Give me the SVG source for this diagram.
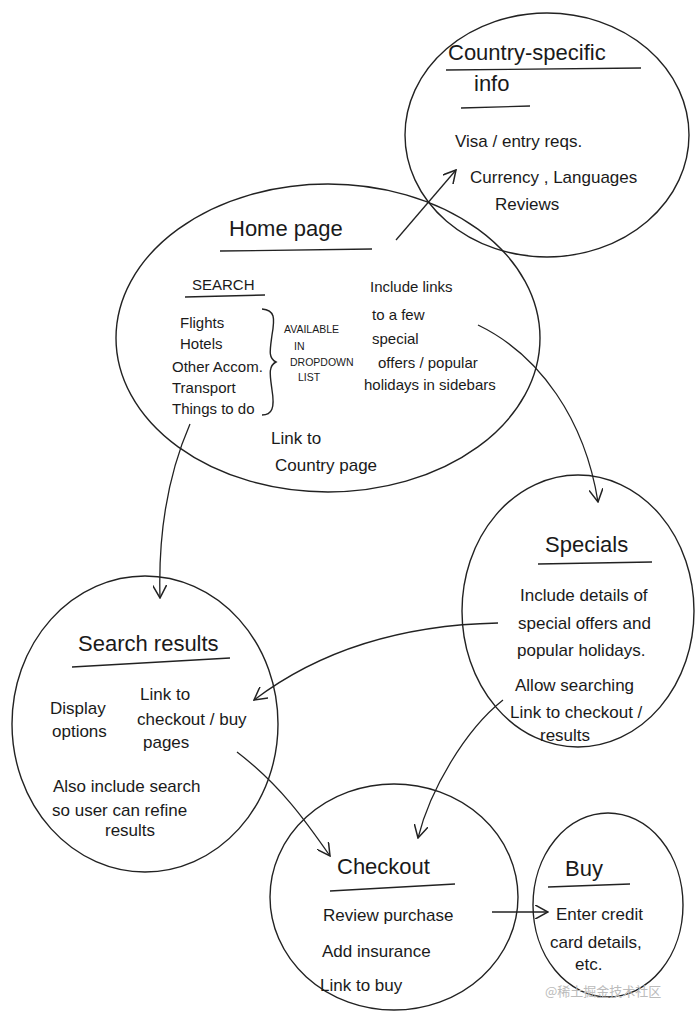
<svg xmlns="http://www.w3.org/2000/svg" width="700" height="1017" viewBox="0 0 700 1017">
<defs>
<marker id="arr" viewBox="0 0 12 12" refX="11" refY="6" markerWidth="14" markerHeight="14" markerUnits="userSpaceOnUse" orient="auto">
<path d="M0,0 L11,6 L0,12" fill="none" stroke="#222" stroke-width="1.3"/>
</marker>
</defs>
<style>
.n{fill:none;stroke:#222;stroke-width:1.4}
.c{fill:none;stroke:#222;stroke-width:1.3;marker-end:url(#arr)}
.u{stroke:#222;stroke-width:1.3}
text{font-family:"Liberation Sans","DejaVu Sans",sans-serif;fill:#1a1a1a}
.h{font-size:22px}
.b{font-size:17px}
.s{font-size:15px}
.t{font-size:10.5px}
</style>
<rect width="700" height="1017" fill="#fff"/>
<g id="connectors">
<path class="c" d="M396,240 L456,170"/>
<path class="c" d="M478,325 C540,355 585,420 598,502"/>
<path class="c" d="M190,424 C170,470 158,530 160,598"/>
<path class="c" d="M498,623 C400,625 320,650 254,700"/>
<path class="c" d="M237,752 C280,785 305,820 330,856"/>
<path class="c" d="M503,700 C465,730 430,790 418,838"/>
<path class="c" d="M492,912 L548,912"/>
</g>
<g id="country">
<ellipse class="n" cx="547" cy="135" rx="142" ry="122"/>
<text class="h" x="448" y="60">Country-specific</text>
<line class="u" x1="446" y1="70" x2="641" y2="68"/>
<text class="h" x="474" y="91">info</text>
<line class="u" x1="461" y1="108" x2="530" y2="106"/>
<text class="b" x="455" y="147" font-size="18">Visa / entry reqs.</text>
<text class="b" x="470" y="183" font-size="19">Currency , Languages</text>
<text class="b" x="495" y="210" font-size="19">Reviews</text>
</g>
<g id="home">
<ellipse class="n" cx="328" cy="338" rx="212" ry="154"/>
<text class="h" x="229" y="236" font-size="24">Home page</text>
<line class="u" x1="220" y1="251" x2="372" y2="249"/>
<text class="s" x="192" y="290">SEARCH</text>
<line class="u" x1="185" y1="297" x2="265" y2="295"/>
<text class="s" x="180" y="328">Flights</text>
<text class="s" x="180" y="349">Hotels</text>
<text class="s" x="172" y="372">Other Accom.</text>
<text class="s" x="172" y="393">Transport</text>
<text class="s" x="172" y="414">Things to do</text>
<path class="n" d="M262,309 C275,310 275,318 272,335 C270,350 268,358 276,362 C268,366 270,375 272,390 C275,408 272,415 262,415"/>
<text class="t" x="284" y="333">AVAILABLE</text>
<text class="t" x="294" y="350">IN</text>
<text class="t" x="290" y="366">DROPDOWN</text>
<text class="t" x="298" y="381">LIST</text>
<text class="s" x="370" y="292" font-size="16">Include links</text>
<text class="s" x="372" y="320" font-size="16">to a few</text>
<text class="s" x="372" y="344" font-size="16">special</text>
<text class="s" x="378" y="368" font-size="16">offers / popular</text>
<text class="s" x="364" y="390" font-size="16">holidays in sidebars</text>
<text class="b" x="271" y="444">Link to</text>
<text class="b" x="275" y="471">Country page</text>
</g>
<g id="specials">
<ellipse class="n" cx="578" cy="611" rx="116" ry="136"/>
<text class="h" x="545" y="552">Specials</text>
<line class="u" x1="538" y1="564" x2="652" y2="562"/>
<text class="b" x="520" y="601">Include details of</text>
<text class="b" x="518" y="629">special offers and</text>
<text class="b" x="517" y="656">popular holidays.</text>
<text class="b" x="515" y="691">Allow searching</text>
<text class="b" x="510" y="718">Link to checkout /</text>
<text class="b" x="540" y="741">results</text>
</g>
<g id="search-results">
<ellipse class="n" cx="145" cy="724" rx="133" ry="148"/>
<text class="h" x="78" y="651" font-size="20">Search results</text>
<line class="u" x1="72" y1="667" x2="230" y2="658"/>
<text class="b" x="50" y="714">Display</text>
<text class="b" x="52" y="737">options</text>
<text class="b" x="140" y="700">Link to</text>
<text class="b" x="137" y="725" font-size="16">checkout / buy</text>
<text class="b" x="143" y="748">pages</text>
<text class="b" x="53" y="792">Also include search</text>
<text class="b" x="52" y="816">so user can refine</text>
<text class="b" x="105" y="836">results</text>
</g>
<g id="checkout">
<ellipse class="n" cx="394" cy="897" rx="124" ry="113"/>
<text class="h" x="337" y="874">Checkout</text>
<line class="u" x1="330" y1="891" x2="455" y2="884"/>
<text class="b" x="323" y="921" font-size="19">Review purchase</text>
<text class="b" x="322" y="957" font-size="19">Add insurance</text>
<text class="b" x="320" y="991" font-size="19">Link to buy</text>
</g>
<g id="buy">
<ellipse class="n" cx="608" cy="905" rx="75" ry="92"/>
<text class="h" x="565" y="876">Buy</text>
<line class="u" x1="548" y1="887" x2="630" y2="884"/>
<text class="b" x="556" y="920">Enter credit</text>
<text class="b" x="550" y="948">card details,</text>
<text class="b" x="575" y="970">etc.</text>
</g>
<text x="545" y="996" font-size="13" style="font-family:'Noto Sans CJK SC','Liberation Sans',sans-serif;fill:#bbb">@稀土掘金技术社区</text>
</svg>
